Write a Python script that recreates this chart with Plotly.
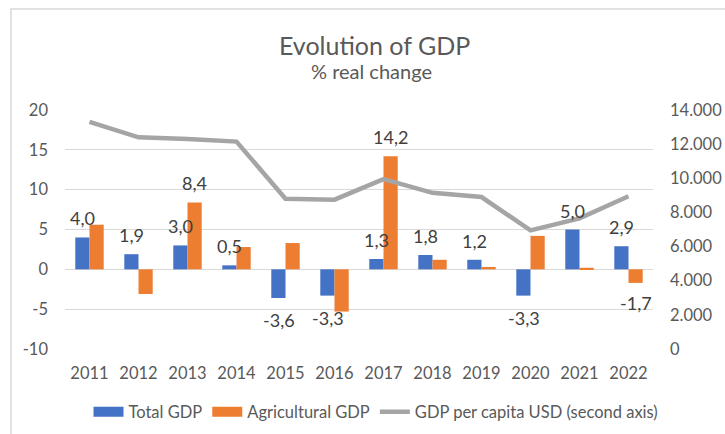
import plotly.graph_objects as go

years = ["2011", "2012", "2013", "2014", "2015", "2016",
         "2017", "2018", "2019", "2020", "2021", "2022"]
total_gdp = [4.0, 1.9, 3.0, 0.5, -3.6, -3.3, 1.3, 1.8, 1.2, -3.3, 5.0, 2.9]
agri_gdp = [5.6, -3.1, 8.4, 2.8, 3.3, -5.3, 14.2, 1.2, 0.3, 4.2, 0.2, -1.7]
gdp_per_capita = [13300, 12400, 12300, 12150, 8800, 8750,
                  9950, 9150, 8900, 6950, 7650, 8950]
agri_labeled_years = ["2013", "2017", "2022"]

left_ticks = [-10, -5, 0, 5, 10, 15, 20]
left_ticktext = ["-10", "-5", "0", "5", "10", "15", "20"]
right_ticks = [0, 2000, 4000, 6000, 8000, 10000, 12000, 14000]

BLUE = "#4472C4"
ORANGE = "#ED7D31"
GRAY = "#A5A5A5"
TXT = "#595959"
LBL = "#404040"
FONT = "Lato"

W, H = 725, 434
ML, MR, MT, MB = 65, 72, 110, 85
PW = W - ML - MR
PH = H - MT - MB


def px_x(px):
    return (px - ML) / PW


def px_y(py):
    return (H - MB - py) / PH


fig = go.Figure()

fig.add_trace(go.Bar(x=years, y=total_gdp, name="Total GDP", marker_color=BLUE,
                     marker_line_width=0, showlegend=False, yaxis="y"))
fig.add_trace(go.Bar(x=years, y=agri_gdp, name="Agricultural GDP", marker_color=ORANGE,
                     marker_line_width=0, showlegend=False, yaxis="y"))

# legend swatches styled like the original (wide bars)
fig.add_trace(go.Scatter(x=[years[0]], y=[None], mode="lines", name="Total GDP",
                         line=dict(color=BLUE, width=10), hoverinfo="skip"))
fig.add_trace(go.Scatter(x=[years[0]], y=[None], mode="lines", name="Agricultural GDP",
                         line=dict(color=ORANGE, width=10), hoverinfo="skip"))

fig.add_trace(go.Scatter(x=years, y=gdp_per_capita, name="GDP per capita USD (second axis)",
                         mode="lines", line=dict(color=GRAY, width=4.5), yaxis="y2"))


def fmt(v):
    return f"{v:.1f}".replace(".", ",")


annotations = []
for i, v in enumerate(total_gdp):
    annotations.append(dict(x=i, y=v, xref="x", yref="y", text=fmt(v), showarrow=False,
                            xshift=-7, yshift=19 if v >= 0 else -22, yanchor="middle",
                            xanchor="center",
                            font=dict(family=FONT, size=18, color=LBL)))
for i, (yr, v) in enumerate(zip(years, agri_gdp)):
    if yr in agri_labeled_years:
        annotations.append(dict(x=i, y=v, xref="x", yref="y", text=fmt(v), showarrow=False,
                                xshift=7, yshift=19 if v >= 0 else -20, yanchor="middle",
                                xanchor="center",
                                font=dict(family=FONT, size=18, color=LBL)))

annotations.append(dict(x=px_x(374), y=px_y(45), xref="paper", yref="paper",
                        text="Evolution of GDP", showarrow=False, xanchor="center",
                        yanchor="middle", font=dict(family=FONT, size=25, color=TXT)))
annotations.append(dict(x=px_x(371), y=px_y(71), xref="paper", yref="paper",
                        text="% real change", showarrow=False, xanchor="center",
                        yanchor="middle", font=dict(family=FONT, size=20, color=TXT)))

fig.update_layout(
    width=W, height=H,
    margin=dict(l=ML, r=MR, t=MT, b=MB, pad=0, autoexpand=False),
    paper_bgcolor="white", plot_bgcolor="white",
    separators=",.",
    barmode="group", bargap=0.42, bargroupgap=0,
    font=dict(family=FONT, size=16, color=TXT),
    xaxis=dict(type="category", categoryorder="array", categoryarray=years,
               range=[-0.5, len(years) - 0.5], autorange=False,
               showgrid=False, zeroline=False, showline=False,
               ticks="", tickfont=dict(family=FONT, size=16.5, color=TXT),
               ticklabelstandoff=12, automargin=False),
    yaxis=dict(range=[-10, 20], autorange=False, tickvals=left_ticks, ticktext=left_ticktext,
               showgrid=True, gridcolor="#D9D9D9", gridwidth=1, zeroline=False,
               showline=False, ticks="", tickfont=dict(family=FONT, size=16.5, color=TXT),
               ticklabelstandoff=16, automargin=False),
    yaxis2=dict(range=[0, 14000], autorange=False, tickvals=right_ticks, tickformat=",d",
                overlaying="y", side="right", showgrid=False, zeroline=False, showline=False,
                ticks="", tickfont=dict(family=FONT, size=16.5, color=TXT),
                ticklabelstandoff=16, automargin=False),
    legend=dict(orientation="h", x=px_x(376), xanchor="center", y=px_y(412),
                yanchor="middle", font=dict(family=FONT, size=16.5, color=TXT),
                bgcolor="rgba(0,0,0,0)", traceorder="normal"),
    annotations=annotations,
    shapes=[dict(type="rect", xref="paper", yref="paper",
                 x0=px_x(11), x1=px_x(745), y0=px_y(460), y1=px_y(9),
                 line=dict(color="#D9D9D9", width=1.5), fillcolor="rgba(0,0,0,0)",
                 layer="below")],
)

fig.write_html("out.html", config={"displayModeBar": False},
               post_script="document.body.style.margin='0px';")
